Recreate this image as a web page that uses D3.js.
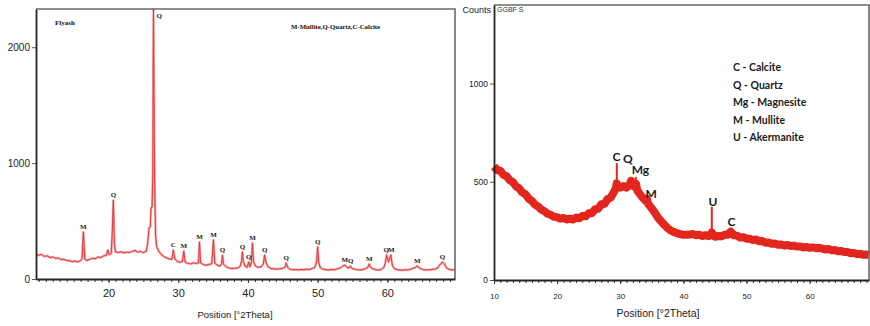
<!DOCTYPE html>
<html>
<head>
<meta charset="utf-8">
<script src="https://cdn.jsdelivr.net/npm/d3@7"></script>
<style>
  body { margin: 0; background: #fff; }
  svg { display: block; }
</style>
</head>
<body>
<svg id="chart" width="870" height="326"></svg>
<script>
// Fly ash pattern, [2theta, counts]
const flyashData = [
  [9.6,215],[10.0,205],[10.4,212],[10.8,195],[11.2,200],[11.6,185],[12.0,190],[12.4,178],[12.8,182],[13.2,168],
  [13.6,170],[14.0,160],[14.4,158],[14.8,150],[15.2,155],[15.6,148],[16.0,160],[16.2,175],[16.4,405],[16.6,170],
  [16.9,160],[17.3,170],[17.7,180],[18.1,175],[18.5,190],[18.9,185],[19.3,200],[19.7,205],[19.9,250],[20.1,210],
  [20.4,220],[20.55,420],[20.7,680],[20.85,300],[21.0,235],[21.4,228],[21.8,235],[22.2,225],[22.6,232],[23.0,228],
  [23.4,238],[23.8,248],[24.2,232],[24.6,238],[25.0,228],[25.4,240],[25.6,300],[25.8,440],[26.0,450],[26.1,615],
  [26.25,620],[26.35,900],[26.45,2330],[26.6,900],[26.75,380],[26.9,280],[27.2,240],[27.6,210],[28.0,190],[28.4,180],
  [28.8,172],[29.1,170],[29.3,250],[29.5,175],[29.9,150],[30.3,145],[30.6,150],[30.8,240],[31.0,145],[31.4,135],
  [31.8,130],[32.2,140],[32.6,132],[32.9,140],[33.05,320],[33.2,140],[33.6,125],[34.0,118],[34.4,125],[34.8,130],
  [35.05,338],[35.25,135],[35.6,120],[36.0,110],[36.2,130],[36.35,205],[36.5,125],[36.9,105],[37.3,95],[37.7,90],
  [38.1,92],[38.5,95],[38.9,110],[39.1,160],[39.2,234],[39.35,150],[39.6,110],[39.9,100],[40.1,147],[40.3,105],
  [40.5,150],[40.65,311],[40.8,150],[41.1,110],[41.5,100],[41.9,105],[42.2,130],[42.4,208],[42.6,140],[42.9,105],
  [43.3,90],[43.7,88],[44.1,85],[44.5,88],[44.9,90],[45.3,100],[45.5,138],[45.7,100],[46.0,85],[46.4,80],
  [46.8,82],[47.2,78],[47.6,82],[48.0,80],[48.4,84],[48.8,82],[49.2,90],[49.6,100],[49.85,150],[50.0,277],
  [50.15,140],[50.4,95],[50.8,85],[51.2,80],[51.6,78],[52.0,82],[52.4,80],[52.8,88],[53.2,95],[53.6,110],
  [53.9,121],[54.2,100],[54.5,95],[54.7,113],[54.9,92],[55.3,85],[55.7,80],[56.1,78],[56.5,82],[56.9,90],
  [57.2,100],[57.4,130],[57.6,100],[57.9,88],[58.3,80],[58.7,78],[59.1,82],[59.5,100],[59.7,140],[59.9,208],
  [60.15,147],[60.3,170],[60.5,208],[60.7,120],[61.0,90],[61.4,80],[61.8,78],[62.2,76],[62.6,80],[63.0,78],
  [63.4,85],[63.8,95],[64.1,105],[64.3,113],[64.5,98],[64.8,88],[65.2,80],[65.6,78],[66.0,80],[66.4,82],
  [66.8,85],[67.2,95],[67.5,120],[67.9,147],[68.2,130],[68.5,95],[68.9,82],[69.3,78],[69.7,80]
];

// peak symbols sitting on top of the fly ash peaks, [2theta, counts, text]
const flyashLabels = [
  [16.4,405,'M'],[20.7,680,'Q'],[29.3,250,'C'],[30.8,240,'M'],[33.05,320,'M'],[35.05,338,'M'],
  [36.35,205,'Q'],[39.2,234,'Q'],[40.1,147,'Q'],[40.65,311,'M'],[42.4,208,'Q'],[45.5,138,'Q'],
  [50.0,277,'Q'],[53.9,121,'M'],[54.75,113,'Q'],[57.4,130,'M'],[59.85,208,'Q'],[60.55,208,'M'],
  [64.3,113,'M'],[67.9,147,'Q']
];
const flyashMainPeak = [26.45, 'Q'];

// GGBFS pattern (noisy band), [2theta, counts]
const ggbfsData = [
  [10.0,578],[10.5,560],[11.0,556],[11.5,535],[12.0,528],[12.5,508],[13.0,498],[13.5,476],[14.0,466],[14.5,446],
  [15.0,436],[15.5,414],[16.0,402],[16.5,384],[17.0,374],[17.5,358],[18.0,350],[18.5,337],[19.0,332],[19.5,322],
  [20.0,320],[20.5,312],[21.0,316],[21.5,308],[22.0,312],[22.5,308],[23.0,318],[23.5,314],[24.0,326],[24.5,324],
  [25.0,340],[25.5,340],[26.0,360],[26.5,362],[27.0,386],[27.5,388],[28.0,412],[28.5,420],[29.0,448],[29.3,468],
  [29.45,492],[29.6,478],[30.0,470],[30.5,478],[31.0,470],[31.5,488],[31.7,505],[31.9,480],[32.3,474],[32.5,490],
  [32.7,455],[33.0,442],[33.5,420],[34.0,404],[34.2,414],[34.4,388],[35.0,364],[35.5,342],[36.0,316],[36.5,298],
  [37.0,280],[37.5,264],[38.0,252],[38.5,244],[39.0,238],[39.5,234],[40.0,230],[40.5,230],[41.0,232],[41.5,234],
  [42.0,228],[42.5,230],[43.0,224],[43.5,228],[44.0,224],[44.3,230],[44.5,242],[44.7,228],[45.0,220],[45.5,224],
  [46.0,222],[46.5,230],[47.0,230],[47.5,246],[48.0,228],[48.5,226],[49.0,216],[49.5,218],[50.0,210],[50.5,210],
  [51.0,204],[51.5,206],[52.0,197],[52.5,198],[53.0,190],[53.5,191],[54.0,184],[54.5,186],[55.0,180],[55.5,181],
  [56.0,175],[56.5,178],[57.0,173],[57.5,175],[58.0,170],[58.5,171],[59.0,166],[59.5,168],[60.0,164],[60.5,166],
  [61.0,162],[61.5,164],[62.0,160],[62.5,155],[63.0,158],[63.5,152],[64.0,153],[64.5,146],[65.0,148],[65.5,142],
  [66.0,142],[66.5,136],[67.0,138],[67.5,132],[68.0,133],[68.5,128],[69.0,130],[69.4,127]
];

// sharp reflections rising out of the band, [2theta, from counts, to counts]
const ggbfsSpikes = [
  [29.45, 480, 595], [32.45, 470, 525], [44.5, 230, 372]
];

// label anchors for GGBFS peaks, [2theta, counts, text]
const ggbfsLabels = [
  [29.4,628,'C'],[31.2,618,'Q'],[33.2,561,'Mg'],[34.9,438,'M'],[44.7,397,'U'],[47.6,295,'C']
];

const legendLines = ['C - Calcite', 'Q - Quartz', 'Mg - Magnesite', 'M - Mullite', 'U - Akermanite'];

const flyashXTicks = [20, 30, 40, 50, 60];
const flyashYTicks = [0, 1000, 2000];
const ggbfsXTicks = [10, 20, 30, 40, 50, 60];
const ggbfsYTicks = [0, 500, 1000];

const svg = d3.select('#chart');
svg.append('rect').attr('width', 870).attr('height', 326).attr('fill', '#fff');

const sans = 'Liberation Sans, Arial, sans-serif';

/**************************************************************
 * Shared axis / frame drawing
 **************************************************************/
function drawAxes(g, x, y, o) {
  const [x0, x1] = x.range();
  const [y0, y1] = y.range();

  // frame: top and right in grey
  g.append('path')
    .attr('d', `M${x0},${y1}H${x1}V${y0}`)
    .attr('fill', 'none')
    .attr('stroke', '#6a6a6a')
    .attr('stroke-width', 1.6);

  // minor ticks every degree
  g.append('g')
    .attr('transform', `translate(0,${y0})`)
    .call(d3.axisBottom(x).tickValues(d3.range(Math.ceil(x.domain()[0]), x.domain()[1], 1))
      .tickSize(o.minorTick).tickFormat(''))
    .call(a => a.select('.domain').remove())
    .call(a => a.selectAll('line').attr('stroke', '#333'));

  g.append('g')
    .attr('transform', `translate(0,${y0})`)
    .call(d3.axisBottom(x).tickValues(o.xTicks).tickFormat(d3.format('d'))
      .tickSize(o.majorTick).tickSizeOuter(0).tickPadding(o.xPad))
    .call(a => a.select('.domain').attr('stroke', '#222').attr('stroke-width', 1.8))
    .call(a => a.selectAll('line').attr('stroke', '#333'))
    .call(a => a.selectAll('text').attr('font-family', sans)
      .attr('font-size', o.xFont).attr('fill', '#222'));

  g.append('g')
    .attr('transform', `translate(${x0},0)`)
    .call(d3.axisLeft(y).tickValues(o.yTicks).tickFormat(d3.format('d'))
      .tickSize(4).tickSizeOuter(0).tickPadding(2))
    .call(a => a.select('.domain').attr('stroke', '#222').attr('stroke-width', 1.8))
    .call(a => a.selectAll('line').attr('stroke', '#555'))
    .call(a => a.selectAll('text').attr('font-family', sans)
      .attr('font-size', o.yFont).attr('fill', '#222'));

  g.append('text')
    .attr('x', o.titleX)
    .attr('y', o.titleY)
    .attr('text-anchor', 'middle')
    .attr('font-family', sans)
    .attr('font-size', o.titleFont)
    .attr('fill', '#222')
    .text('Position [°2Theta]');
}

/**************************************************************
 * Left panel - Fly ash
 **************************************************************/
const xL = d3.scaleLinear().domain([9.6, 69.7]).range([36, 455]);
const yL = d3.scaleLinear().domain([0, 2330]).range([279, 9]);
const gL = svg.append('g');
const lineL = d3.line().x(d => xL(d[0])).y(d => yL(d[1]));

gL.append('path')
  .datum(flyashData)
  .attr('d', lineL)
  .attr('fill', 'none')
  .attr('stroke', '#f4a9a9')
  .attr('stroke-width', 2.4)
  .attr('stroke-linejoin', 'round');
gL.append('path')
  .datum(flyashData)
  .attr('d', lineL)
  .attr('fill', 'none')
  .attr('stroke', '#e2383c')
  .attr('stroke-width', 1)
  .attr('stroke-linejoin', 'round');

drawAxes(gL, xL, yL, {
  xTicks: flyashXTicks, yTicks: flyashYTicks, minorTick: 3, majorTick: 4, xPad: 6,
  xFont: '11px', yFont: '10px', titleX: 235, titleY: 318, titleFont: '9.5px'
});

const serif = 'Liberation Serif, Times New Roman, serif';
gL.selectAll('.peak-label')
  .data(flyashLabels)
  .enter()
  .append('text')
  .attr('class', 'peak-label')
  .attr('x', d => xL(d[0]))
  .attr('y', d => yL(d[1]) - 3)
  .attr('text-anchor', 'middle')
  .attr('font-family', serif)
  .attr('font-weight', 'bold')
  .attr('font-size', '7px')
  .attr('fill', '#222')
  .text(d => d[2]);

gL.append('text')
  .attr('x', xL(flyashMainPeak[0]) + 3)
  .attr('y', 18)
  .attr('font-family', serif)
  .attr('font-weight', 'bold')
  .attr('font-size', '7px')
  .attr('fill', '#222')
  .text(flyashMainPeak[1]);

gL.append('text')
  .attr('x', 55).attr('y', 25)
  .attr('font-family', serif).attr('font-weight', 'bold').attr('font-size', '7px')
  .attr('fill', '#111')
  .text('Flyash');

gL.append('text')
  .attr('x', 291).attr('y', 29)
  .attr('font-family', serif).attr('font-weight', 'bold').attr('font-size', '6.8px')
  .attr('fill', '#111')
  .text('M-Mullite,Q-Quartz,C-Calcite');

/**************************************************************
 * Right panel - GGBFS
 **************************************************************/
const xR = d3.scaleLinear().domain([10, 69.4]).range([494, 869]);
const yR = d3.scaleLinear().domain([0, 1400]).range([280, 5]);
const gR = svg.append('g');
const lineR = d3.line().x(d => xR(d[0])).y(d => yR(d[1]));

// noisy trace drawn as one thick band
gR.append('path')
  .datum(ggbfsData)
  .attr('d', lineR)
  .attr('fill', 'none')
  .attr('stroke', '#e3261d')
  .attr('stroke-width', 8)
  .attr('stroke-linejoin', 'round');

gR.selectAll('.spike')
  .data(ggbfsSpikes)
  .enter()
  .append('line')
  .attr('class', 'spike')
  .attr('x1', d => xR(d[0]))
  .attr('x2', d => xR(d[0]))
  .attr('y1', d => yR(d[1]))
  .attr('y2', d => yR(d[2]))
  .attr('stroke', '#e3261d')
  .attr('stroke-width', 2);

drawAxes(gR, xR, yR, {
  xTicks: ggbfsXTicks, yTicks: ggbfsYTicks, minorTick: 3, majorTick: 4, xPad: 9,
  xFont: '8px', yFont: '8.5px', titleX: 658, titleY: 317, titleFont: '10.5px'
});

const calibri = 'Lato, Open Sans, sans-serif';
gR.selectAll('.peak-label')
  .data(ggbfsLabels)
  .enter()
  .append('text')
  .attr('class', 'peak-label')
  .attr('x', d => xR(d[0]))
  .attr('y', d => yR(d[1]))
  .attr('dy', '0.35em')
  .attr('text-anchor', 'middle')
  .attr('font-family', calibri)
  .attr('font-weight', 'bold')
  .attr('font-size', '12px')
  .attr('fill', '#1a1a1a')
  .text(d => d[2]);

gR.selectAll('.legend-line')
  .data(legendLines)
  .enter()
  .append('text')
  .attr('class', 'legend-line')
  .attr('x', 733)
  .attr('y', (d, i) => 71 + i * 17.5)
  .attr('font-family', calibri)
  .attr('font-weight', 'bold')
  .attr('font-size', '10.5px')
  .attr('fill', '#1a1a1a')
  .text(d => d);

svg.append('text')
  .attr('x', 491).attr('y', 13)
  .attr('text-anchor', 'end')
  .attr('font-family', sans).attr('font-size', '9px')
  .attr('fill', '#222')
  .text('Counts');

gR.append('text')
  .attr('x', 497).attr('y', 12)
  .attr('font-family', sans).attr('font-size', '7px')
  .attr('fill', '#333')
  .text('GGBF S');
</script>
</body>
</html>
